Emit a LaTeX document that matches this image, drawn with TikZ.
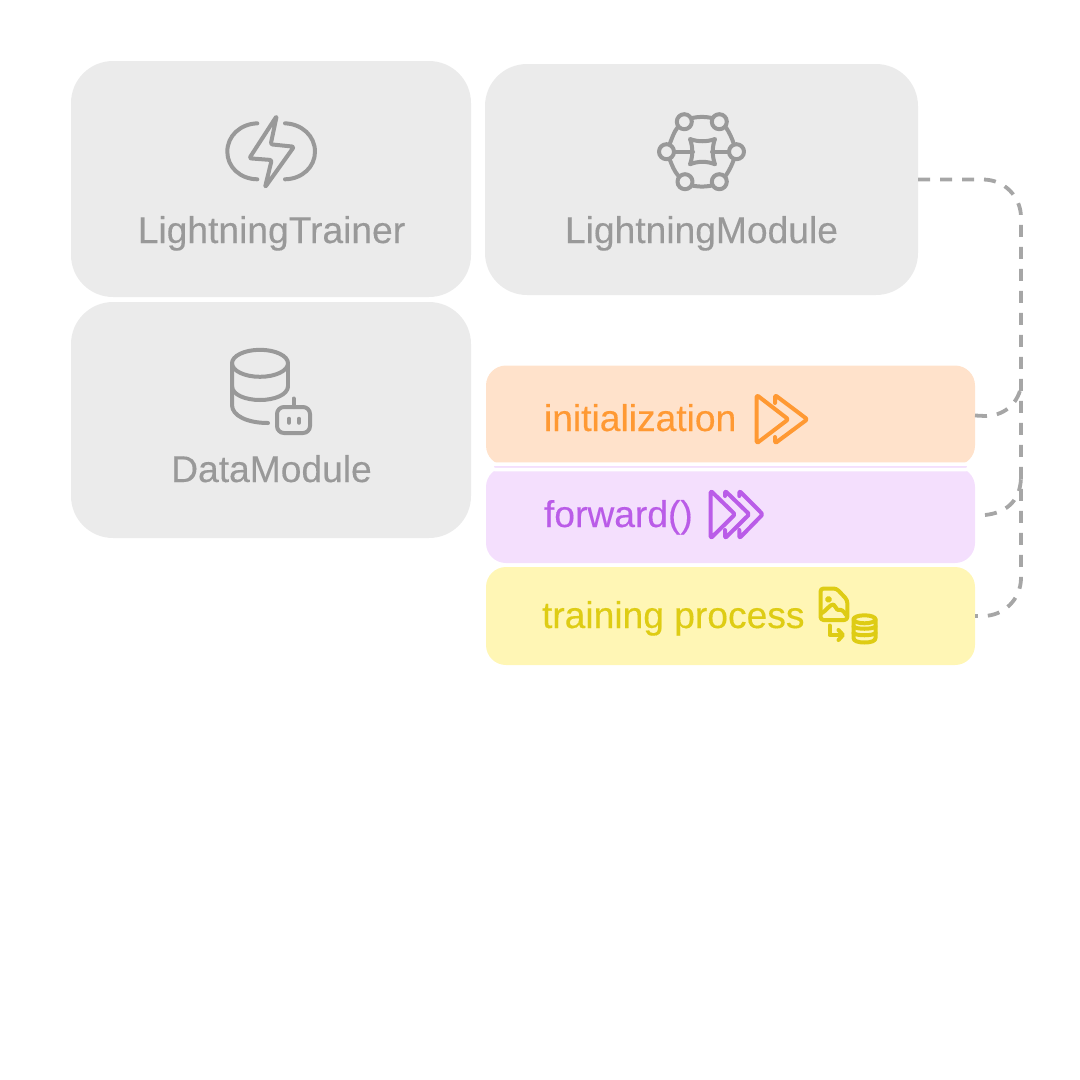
\documentclass[tikz,border=0pt]{standalone}
\usepackage{fontspec}
\setmainfont{Liberation Sans}[FakeBold=0.3]
\begin{document}
\begin{tikzpicture}[x=1pt,y=-1pt,line cap=round,line join=round,
	panel/.style={fill=custcol_eb, rounded corners=42pt, inner sep=0, outer sep=0},
	band/.style={rounded corners=20pt, inner sep=0, outer sep=0, minimum width=489pt},
	caption/.style={inner sep=0, outer sep=0, font=\fontsize{37.2pt}{37.2pt}\selectfont},
	linkdash/.style={line width=3.8pt, custcol_a6, line cap=butt, dash pattern=on 12pt off 10pt}]
	\definecolor{custcol_eb}{RGB}{235, 235, 235}
	\definecolor{custcol_99}{RGB}{153, 153, 153}
	\definecolor{custcol_a6}{RGB}{166, 166, 166}
	\definecolor{custcol_peach}{RGB}{255, 226, 203}
	\definecolor{custcol_orange}{RGB}{255, 153, 51}
	\definecolor{custcol_lilac}{RGB}{244, 223, 253}
	\definecolor{custcol_violet}{RGB}{186, 92, 232}
	\definecolor{custcol_cream}{RGB}{255, 246, 181}
	\definecolor{custcol_yellow}{RGB}{222, 204, 20}
	\useasboundingbox (0,0) rectangle (1080,1080);
	% panels
	\node[panel, minimum width=400pt, minimum height=236pt] (trainer) at (271,179) {};
	\node[panel, minimum width=433pt, minimum height=231pt] (module) at (701.5,179.5) {};
	\node[panel, minimum width=400pt, minimum height=236pt] (data) at (271,420) {};
	% bands
	\node[band, fill=custcol_peach, minimum height=100pt] (init) at (730.5,415.5) {};
	\node[band, fill=custcol_lilac, minimum height=96pt] (forward) at (730.5,515) {};
	\node[band, fill=custcol_cream, minimum height=98pt] (training) at (730.5,616) {};
	\draw [line width=3.5pt, white, fill=custcol_lilac, rounded corners=2.7pt] (492,464) rectangle (969,469.5);
	% labels
	\node[caption, custcol_99, anchor=base] (trainerlabel) at (271.5,243) {LightningTrainer};
	\node[caption, custcol_99, anchor=base] (modulelabel) at (701.5,243) {LightningModule};
	\node[caption, custcol_99, anchor=base] (datalabel) at (271.5,482) {DataModule};
	\node[caption, custcol_orange, anchor=base west] (initlabel) at (544,431) {initialization};
	\node[caption, custcol_violet, anchor=base west] (forwardlabel) at (544,527) {forward()};
	\node[caption, custcol_yellow, anchor=base west] (traininglabel) at (542,628) {training process};
	% connectors
	\coordinate (rail) at (1021,400);
	\coordinate (railinit) at (1021,387);
	\coordinate (railforward) at (1021,478);
	\draw [linkdash, rounded corners=38pt] (module.east) -| (rail) |- (training.east);
	\draw [linkdash] (init.east) -- (985,416) .. controls (1003,416) and (1017,405) .. (railinit);
	\draw [linkdash, dash phase=12pt] (forward.east) -- (985,515) .. controls (1004,513) and (1020,503) .. (railforward);
	% bolt
	\draw [line width=4pt, custcol_99] (257.3,123.3) .. controls (240,124) and (227.3,136) .. (227.3,151.7) .. controls (227.3,167) and (240,179) .. (257.3,179.3);
	\draw [line width=4pt, custcol_99] (285,123.3) .. controls (302,124) and (315,136) .. (315,151.7) .. controls (315,167) and (302,179) .. (285,179.3);
	\draw [line width=4pt, custcol_99, rounded corners=2pt] (276.7,116) -- (270.7,144.3) -- (294,146.7) -- (265,187.3) -- (271.7,160) -- (249.3,158.3) -- cycle;
	% network
	\foreach \cx/\cy in {684.3/121.7, 719.3/121.7, 666.5/151.7, 736.5/151.7, 685/181.7, 719.3/181.7}
		\draw [line width=4pt, custcol_99] (\cx,\cy) circle (7.5);
	\draw [line width=4pt, custcol_99] (692,118) .. controls (700,116.5) and (704,116.5) .. (712,118);
	\draw [line width=4pt, custcol_99] (692,185.5) .. controls (700,187) and (704,187) .. (712,185.5);
	\draw [line width=4pt, custcol_99] (677.5,127.5) .. controls (674,132) and (672,138) .. (669.5,144.5);
	\draw [line width=4pt, custcol_99] (726,127.5) .. controls (729,132) and (732,138) .. (734,144.5);
	\draw [line width=4pt, custcol_99] (669.5,159) .. controls (672,165) and (674,171) .. (678.5,176);
	\draw [line width=4pt, custcol_99] (734,159) .. controls (732,165) and (729,171) .. (725.5,176);
	\draw [line width=4pt, custcol_99] (674,151.7) -- (693,151.7);
	\draw [line width=4pt, custcol_99] (712,151.7) -- (729,151.7);
	\draw [line width=4pt, custcol_99] (690,139) .. controls (698,142) and (707,142) .. (715,139) .. controls (712,147) and (712,156) .. (715,164.3) .. controls (707,161) and (698,161) .. (690,164.3) .. controls (693,156) and (693,147) .. (690,139) -- cycle;
	% database and robot
	\draw [line width=4pt, custcol_99] (260,363.3) ellipse (28 and 13.5);
	\draw [line width=4pt, custcol_99] (232,363.3) -- (232,405) .. controls (232,416) and (248,423) .. (268,423);
	\draw [line width=4pt, custcol_99] (288,363.3) -- (288,387);
	\draw [line width=4pt, custcol_99] (232,386) .. controls (232,395) and (246,400) .. (260,400) .. controls (274,400) and (288,395) .. (288,386);
	\draw [line width=4pt, custcol_99, rounded corners=7pt] (277,407) rectangle (310,433);
	\draw [line width=4pt, custcol_99] (293.5,398.5) -- (293.5,407);
	\draw [line width=3.5pt, custcol_99] (289,418.5) -- (289,423);
	\draw [line width=3.5pt, custcol_99] (299,418.5) -- (299,423);
	% init arrows
	\draw [line width=4pt, custcol_orange, rounded corners=1.5pt] (756.7,395) -- (788.3,419.3) -- (756.7,443.3) -- cycle;
	\draw [line width=4pt, custcol_orange, rounded corners=1.5pt] (775,403) -- (775,395) -- (807.3,419.3) -- (775,443.3) -- (775,437);
	% forward arrows
	\draw [line width=4pt, custcol_violet, rounded corners=1.5pt] (710.7,490.7) -- (735,514.3) -- (710.7,538.3) -- cycle;
	\draw [line width=4pt, custcol_violet, rounded corners=1.5pt] (725,496) -- (725,490.7) -- (749.3,514.3) -- (725,538.3) -- (725,530);
	\draw [line width=4pt, custcol_violet, rounded corners=1.5pt] (739.3,496) -- (739.3,490.7) -- (762.7,514.3) -- (739.3,538.3) -- (739.3,530);
	% training icon
	\draw [line width=4pt, custcol_yellow, rounded corners=3pt] (820.5,588.5) -- (836.5,588.5) -- (847.3,600) -- (847.3,620) -- (820.5,620) -- cycle;
	\draw [line width=3.5pt, custcol_yellow] (828.5,599.3) circle (1.8);
	\draw [line width=4pt, custcol_yellow] (822,613) .. controls (826,611) and (830,604) .. (833.5,604.5) .. controls (836,606) and (836,610) .. (838.5,610) .. controls (841,609) and (844,611) .. (846,615);
	\draw [line width=4pt, custcol_yellow] (829.5,625.5) -- (829.5,635) -- (841.5,635);
	\draw [line width=4pt, custcol_yellow] (838.5,630) -- (843,635) -- (838.5,640);
	\draw [line width=4pt, custcol_yellow] (864.5,619.3) ellipse (11 and 4);
	\draw [line width=4pt, custcol_yellow] (853.5,619.3) -- (853.5,638) .. controls (853.5,641) and (858,642.5) .. (864.5,642.5) .. controls (871,642.5) and (875.5,641) .. (875.5,638) -- (875.5,619.3);
	\draw [line width=4pt, custcol_yellow] (853.5,626.5) .. controls (856,629.5) and (873,629.5) .. (875.5,626.5);
	\draw [line width=4pt, custcol_yellow] (853.5,633) .. controls (856,636) and (873,636) .. (875.5,633);
\end{tikzpicture}
\end{document}
